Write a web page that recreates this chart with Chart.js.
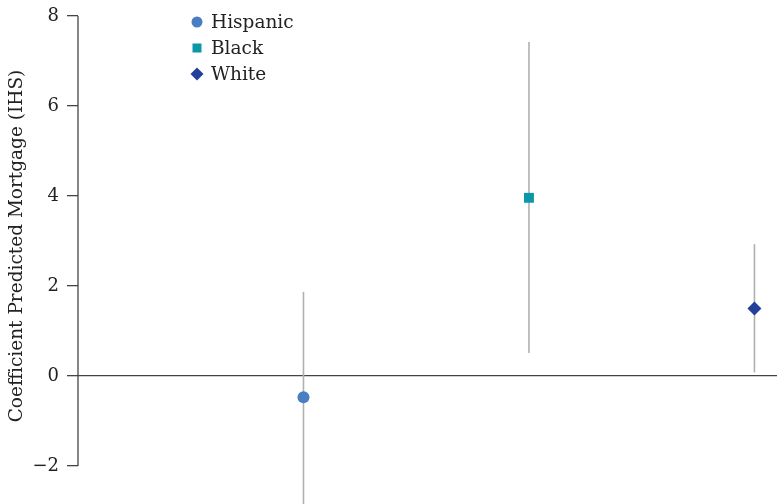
<!DOCTYPE html>
<html><head><meta charset="utf-8">
<script src="https://cdn.jsdelivr.net/npm/chart.js@4.4.1/dist/chart.umd.min.js"></script>
<style>html,body{margin:0;padding:0;background:#fff;}#wrap{width:777px;height:504px;position:relative;}</style>
</head><body><div id="wrap"><canvas id="c" width="777" height="504"></canvas></div>
<script>
const groups = ['Hispanic', 'Black', 'White'];
const xPos = [1, 2, 3];
const estimates = [-0.47, 3.96, 1.50];
const lower = [-3.3, 0.51, 0.08];
const upper = [1.87, 7.42, 2.93];
const yTicks = [-2, 0, 2, 4, 6, 8];
const axisTitle = 'Coefficient Predicted Mortgage (IHS)';
const colors = ['#4a7ec3', '#0b97a8', '#243f9a'];
const shapes = ['circle', 'rect', 'rectRot'];
const radii = [6, 7, 7];
const FONT = "'DejaVu Serif', serif";

const datasets = [];
groups.forEach((g, i) => {
  datasets.push({
    label: g + ' CI', type: 'line',
    data: [{x: xPos[i], y: lower[i]}, {x: xPos[i], y: upper[i]}],
    borderColor: '#b0b0b0', borderWidth: 1.6, pointRadius: 0, fill: false, order: 2
  });
});
groups.forEach((g, i) => {
  datasets.push({
    label: g, type: 'scatter',
    data: [{x: xPos[i], y: estimates[i]}],
    backgroundColor: colors[i], borderColor: colors[i], borderWidth: 0,
    pointStyle: shapes[i], pointRadius: radii[i], order: 1
  });
});

const deco = {
  id: 'deco',
  afterDraw(chart) {
    const ctx = chart.ctx, y = chart.scales.y;
    const left = chart.chartArea.left;
    ctx.save();
    ctx.strokeStyle = '#444'; ctx.lineWidth = 1.3;
    ctx.beginPath();
    ctx.moveTo(left, y.getPixelForValue(yTicks[yTicks.length - 1]));
    ctx.lineTo(left, y.getPixelForValue(yTicks[0]));
    ctx.stroke();
    const cy = (y.getPixelForValue(yTicks[0]) + y.getPixelForValue(yTicks[yTicks.length - 1])) / 2 + 5;
    ctx.translate(17.5, cy);
    ctx.rotate(-Math.PI / 2);
    ctx.fillStyle = '#222';
    ctx.font = '18.5px ' + FONT;
    ctx.textAlign = 'center'; ctx.textBaseline = 'middle';
    ctx.fillText(axisTitle, 0, 0);
    ctx.restore();
    // legend
    ctx.save();
    ctx.font = '18.5px ' + FONT;
    ctx.textBaseline = 'middle'; ctx.textAlign = 'left';
    groups.forEach((g, i) => {
      const ly = 22 + i * 26;
      ctx.fillStyle = colors[i];
      ctx.beginPath();
      if (shapes[i] === 'circle') { ctx.arc(197, ly, 5.5, 0, Math.PI * 2); }
      else if (shapes[i] === 'rect') { ctx.rect(192.5, ly - 4.5, 9, 9); }
      else { ctx.moveTo(197, ly - 6.5); ctx.lineTo(203.5, ly); ctx.lineTo(197, ly + 6.5); ctx.lineTo(190.5, ly); ctx.closePath(); }
      ctx.fill();
      ctx.fillStyle = '#222';
      ctx.fillText(g, 211, ly + 1);
    });
    ctx.restore();
  }
};

new Chart(document.getElementById('c'), {
  type: 'scatter',
  data: { datasets },
  options: {
    responsive: false, animation: false,
    layout: { autoPadding: false, padding: { top: 16, left: 0, right: 0, bottom: 0 } },
    plugins: { legend: { display: false }, tooltip: { enabled: false } },
    scales: {
      x: { type: 'linear', display: false, min: 0, max: 3.1 },
      y: {
        type: 'linear', min: -2.844, max: 8,
        afterBuildTicks(s) { s.ticks = yTicks.map(v => ({ value: v })); },
        afterFit(s) { s.width = 78; s.paddingTop = 0; s.paddingBottom = 0; },
        border: { display: false },
        grid: {
          drawOnChartArea: true, drawTicks: true, tickLength: 11,
          color: c => (c.tick && c.tick.value === 0) ? '#444' : 'rgba(0,0,0,0)',
          lineWidth: 1.3, tickColor: '#444', tickWidth: 1.3
        },
        ticks: {
          padding: 8, color: '#222', font: { family: FONT, size: 18 },
          callback: v => (v < 0 ? '\u2212' + Math.abs(v) : String(v))
        }
      }
    }
  },
  plugins: [deco]
});
</script></body></html>
